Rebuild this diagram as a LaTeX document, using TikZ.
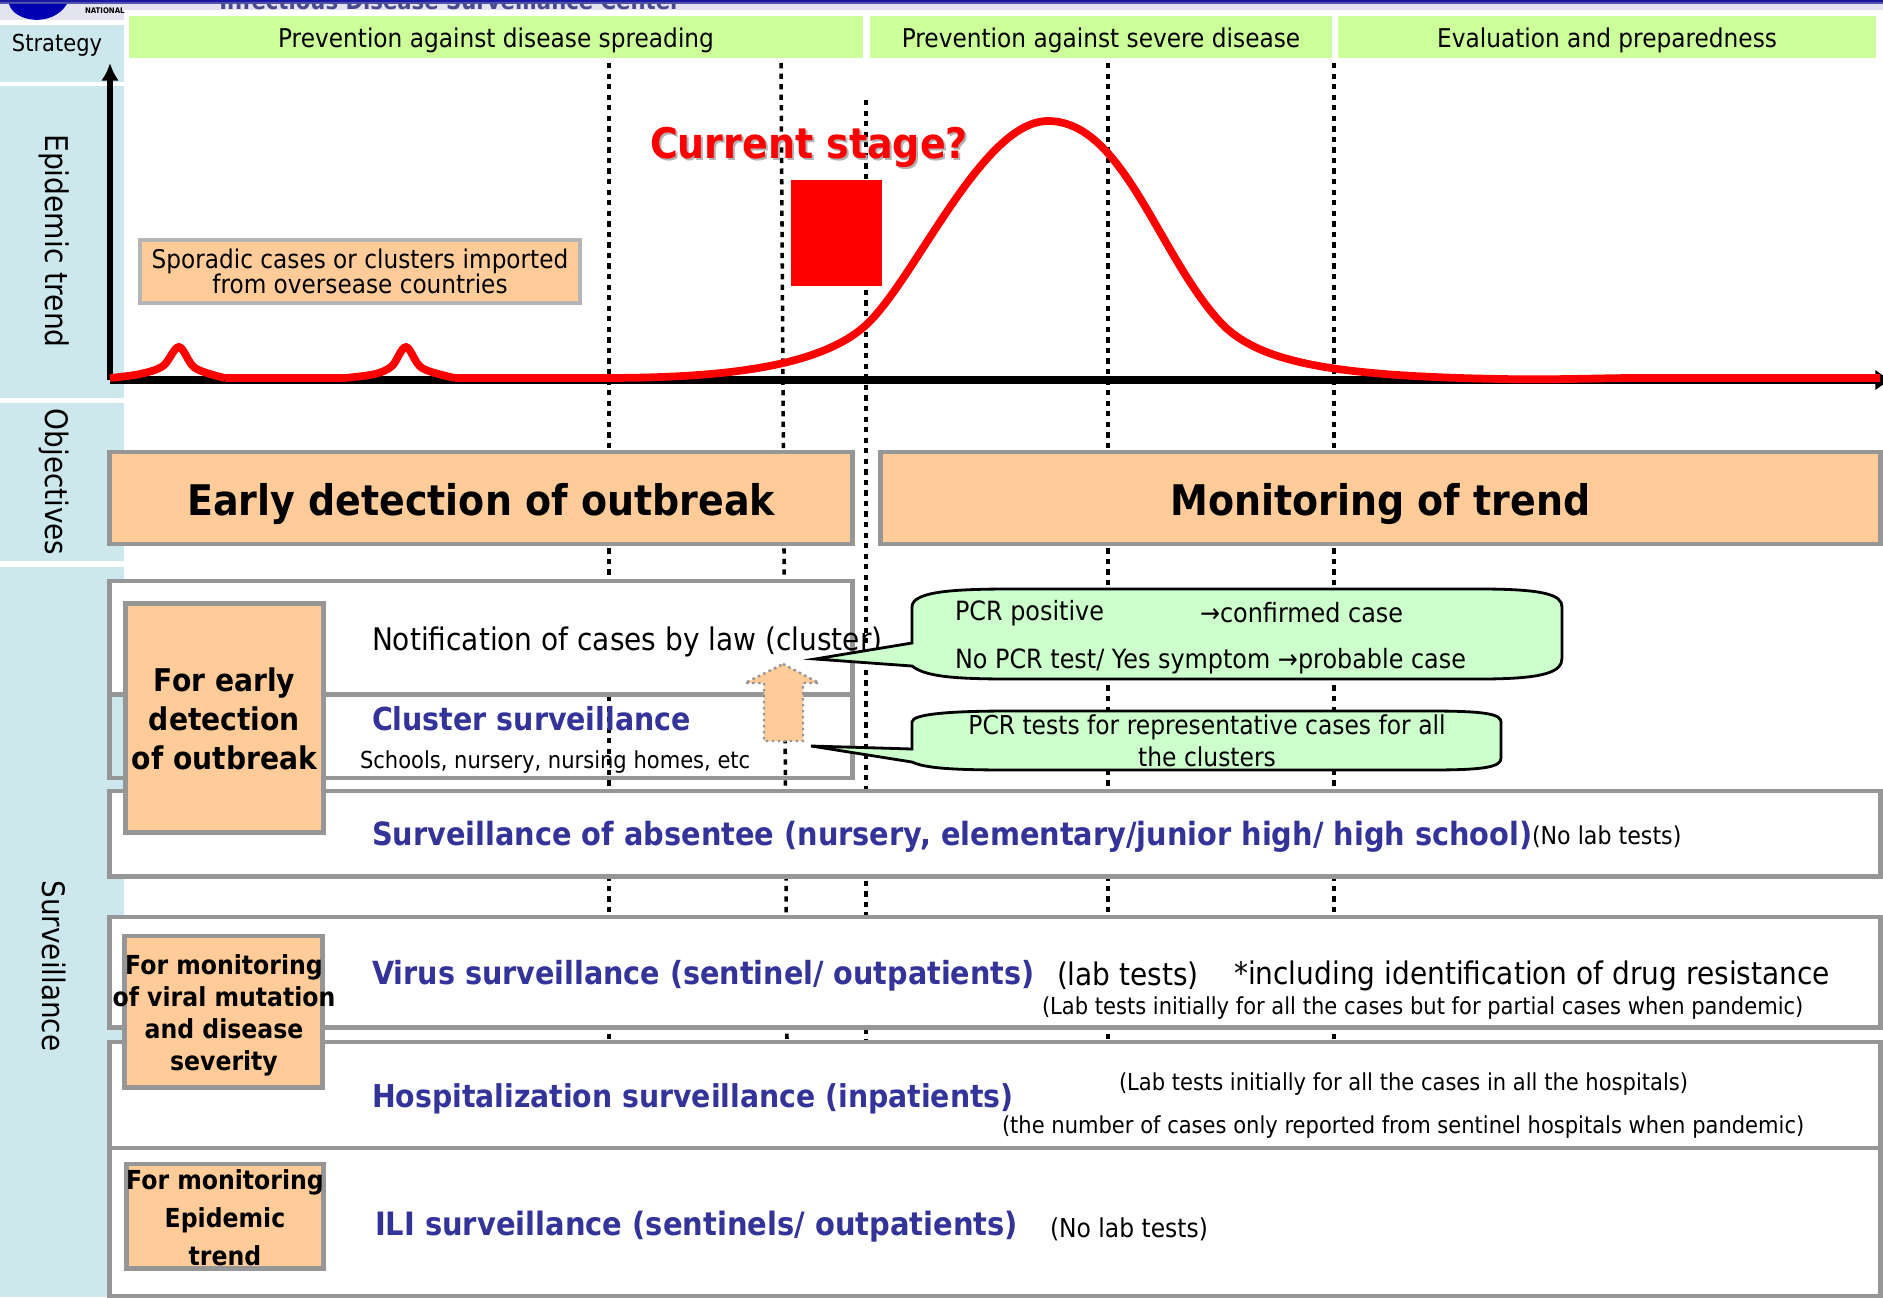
\documentclass[tikz,border=0pt]{standalone}
\usepackage{fontspec}
\setmainfont[FakeStretch=0.9]{DejaVu Sans}
\usetikzlibrary{arrows.meta}
\definecolor{bandblue}{HTML}{CCE8EC}
\definecolor{headgreen}{HTML}{CCFF99}
\definecolor{calloutgreen}{HTML}{CCFFCC}
\definecolor{boxorange}{HTML}{FFCC99}
\definecolor{boxgray}{HTML}{969696}
\definecolor{titleblue}{HTML}{333399}
\definecolor{stripblue}{HTML}{E4E4F0}
\begin{document}
\begin{tikzpicture}[x=0.01cm,y=-0.01cm]
    \tikzstyle{every node}=[inner sep=0pt,outer sep=0pt]
    \tikzstyle{band}=[fill=bandblue,draw=none]
    \tikzstyle{strategy}=[fill=headgreen,draw=none,font=\fontsize{7.35}{8}\selectfont,minimum height=0.42cm,text height=0.2cm,text depth=0cm]
    \tikzstyle{stagebreak}=[line width=1pt,black,dash pattern=on 1.5pt off 1.5pt]
    \tikzstyle{objective}=[fill=boxorange,draw=boxgray,line width=1.4pt,minimum height=0.92cm,font=\fontsize{12}{14}\selectfont\bfseries,text height=0.34cm,text depth=0cm]
    \tikzstyle{survbox}=[fill=white,draw=boxgray,line width=1.4pt]
    \tikzstyle{purpose}=[fill=boxorange,draw=boxgray,line width=1.4pt]
    \tikzstyle{purposetext}=[align=center,font=\fontsize{8.9}{11}\selectfont\bfseries]
    \tikzstyle{survtitle}=[anchor=west,text=titleblue,font=\fontsize{9}{10}\selectfont\bfseries]
    \tikzstyle{plain}=[anchor=west,font=\fontsize{8.85}{10}\selectfont]
    \tikzstyle{small}=[anchor=west,font=\fontsize{6.65}{8}\selectfont]
    \tikzstyle{calloutlab}=[anchor=west,font=\fontsize{7.55}{8}\selectfont]
    \tikzstyle{sidelab}=[rotate=-90,font=\fontsize{8.8}{10}\selectfont]
    \tikzstyle{curve}=[red,line width=2.2pt]
    \tikzstyle{callout}=[fill=calloutgreen,draw=black,line width=0.8pt]
    \useasboundingbox (0,0) rectangle (1883,1297);
    \fill[white] (0,0) rectangle (1883,1297);
    % cropped slide header
    \fill[stripblue] (0,4) rectangle (1883,10);
    \fill[stripblue] (0,10) rectangle (124,20);
    \fill[blue!60!black!90] (0,0) rectangle (1883,2);
    \fill[blue!35!gray] (0,2) rectangle (1883,4);
    \fill[blue!70!black] (9,4) .. controls (14,22) and (52,28) .. (67,4) -- cycle;
    \begin{scope}
        \clip (0,4) rectangle (1883,10);
        \node[text=titleblue!70!gray,font=\fontsize{6.7}{8}\selectfont\bfseries,anchor=base] (centre) at (450,10) {Infectious Disease Surveillance Center};
    \end{scope}
    \node[font=\fontsize{2.2}{3}\selectfont\bfseries,anchor=west] (logo) at (85,11) {NATIONAL};
    % side bands
    \fill[band] (0,25) rectangle (124,82);
    \fill[band] (0,86) rectangle (124,398);
    \fill[band] (0,403) rectangle (124,561);
    \fill[band] (0,567) rectangle (124,1297);
    \node[font=\fontsize{6.65}{8}\selectfont] (strategylab) at (57,45) {Strategy};
    \node[sidelab,font=\fontsize{8.9}{10}\selectfont] (trendlab) at (54,241) {Epidemic trend};
    \node[sidelab] (objectlab) at (54,482) {Objectives};
    \node[sidelab] (surveylab) at (54,966) {Surveillance};
    % strategy headers
    \node[strategy,minimum width=7.34cm] (spread) at (496,37) {Prevention against disease spreading};
    \node[strategy,minimum width=4.62cm] (severe) at (1101,37) {Prevention against severe disease};
    \node[strategy,minimum width=5.38cm] (prepare) at (1607,37) {Evaluation and preparedness};
    % stage breaks
    \draw[stagebreak] (609,63) -- (609,1042);
    \draw[stagebreak] (781,63) -- (787,1042);
    \draw[stagebreak] (866,100) -- (866,1042);
    \draw[stagebreak] (1108,63) -- (1108,1042);
    \draw[stagebreak] (1334,63) -- (1334,1042);
    % epidemic curve
    \coordinate (origin) at (110,380);
    \coordinate (ytop) at (110,63);
    \coordinate (xend) at (1893,380);
    \draw[line width=1.5pt,-{Latex[length=5pt,width=5pt]}] (origin) -- (ytop);
    \draw[line width=2pt,-{Latex[length=5pt,width=6pt]}] (origin) -- (xend);
    \draw[curve] plot[smooth,tension=0.55] coordinates {(110,378) (140,374) (163,366) (179,347) (195,368) (225,378)};
    \draw[curve] (225,378) -- (345,378);
    \draw[curve] plot[smooth,tension=0.55] coordinates {(345,378) (375,374) (392,366) (406,347) (422,368) (455,378)};
    \draw[curve] (455,378) -- (600,378) .. controls (700,378) and (815,372) .. (866,325) .. controls (915,280) and (982,121) .. (1048,121) .. controls (1125,121) and (1160,262) .. (1225,327) .. controls (1265,364) and (1340,376) .. (1500,379) .. controls (1560,380) and (1600,378) .. (1637,378) -- (1880,378);
    \node[fill=boxorange,draw=boxgray!70!white,line width=1.2pt,minimum width=4.4cm,minimum height=0.63cm,align=center,font=\fontsize{7.33}{7.2}\selectfont] (sporadic) at (360,271.5) {Sporadic cases or clusters imported\\from oversease countries};
    \fill[red] (791,180) rectangle (882,286);
    \node[text=black!30,font=\fontsize{12}{14}\selectfont\bfseries] (stageshadow) at (811,149) {Current stage?};
    \node[text=red,font=\fontsize{12}{14}\selectfont\bfseries] (stage) at (809,147) {Current stage?};
    % objectives
    \node[objective,minimum width=7.42cm] (early) at (481,498) {Early detection of outbreak};
    \node[objective,minimum width=9.99cm] (trend) at (1380.5,498) {Monitoring of trend};
    % surveillance boxes
    \node[survbox,minimum width=7.42cm,minimum height=1.13cm] (lawbox) at (481,637.5) {};
    \node[survbox,fill=none,minimum width=7.42cm,minimum height=0.84cm] (clusterbox) at (481,736) {};
    \node[survbox,minimum width=17.70cm,minimum height=0.85cm] (absentbox) at (995,833.5) {};
    \node[survbox,minimum width=17.70cm,minimum height=1.10cm] (virusbox) at (995,972) {};
    \node[survbox,minimum width=17.70cm,minimum height=1.06cm] (hospbox) at (995,1095) {};
    \node[survbox,minimum width=17.70cm,minimum height=1.48cm] (ilibox) at (995,1222) {};
    \node[purpose,minimum width=1.97cm,minimum height=2.28cm] (earlybox) at (224.5,718) {};
    \node[purpose,minimum width=1.97cm,minimum height=1.51cm] (viralbox) at (223.5,1011.5) {};
    \node[purpose,minimum width=1.96cm,minimum height=1.04cm] (epibox) at (225,1216) {};
    \node[purposetext] (earlytext) at (224.5,719) {For early\\detection\\of outbreak};
    \node[purposetext,font=\fontsize{7.45}{9.1}\selectfont\bfseries] (viraltext) at (224,1015) {For monitoring\\of viral mutation\\and disease\\severity};
    \node[purposetext,font=\fontsize{7.45}{10.8}\selectfont\bfseries] (epitext) at (225,1218) {For monitoring\\Epidemic\\trend};
    % box texts
    \node[plain] (lawtext) at (372,642) {Notification of cases by law (cluster)};
    \node[survtitle] (clustertext) at (372,719) {Cluster surveillance};
    \node[small] (schooltext) at (360,762) {Schools, nursery, nursing homes, etc};
    \node[survtitle,font=\fontsize{9.1}{10}\selectfont\bfseries] (absenttext) at (372,837) {Surveillance of absentee (nursery, elementary/junior high/ high school)};
    \node[small,font=\fontsize{7}{8}\selectfont] (absentnote) at (1532,837) {(No lab tests)};
    \node[survtitle,font=\fontsize{9.05}{10}\selectfont\bfseries] (virustext) at (372,976) {Virus surveillance (sentinel/ outpatients)};
    \node[plain] (virusnote) at (1057,976) {(lab tests)};
    \node[plain] (drugnote) at (1234,976) {*including identification of drug resistance};
    \node[small] (partnote) at (1042,1008) {(Lab tests initially for all the cases but for partial cases when pandemic)};
    \node[survtitle,font=\fontsize{8.95}{10}\selectfont\bfseries] (hosptext) at (372,1099) {Hospitalization surveillance (inpatients)};
    \node[small] (hospnote) at (1119,1084) {(Lab tests initially for all the cases in all the hospitals)};
    \node[small] (sentnote) at (1002,1127) {(the number of cases only reported from sentinel hospitals when pandemic)};
    \node[survtitle,font=\fontsize{9.15}{10}\selectfont\bfseries] (ilitext) at (375,1227) {ILI surveillance (sentinels/ outpatients)};
    \node[small,font=\fontsize{7.4}{8}\selectfont] (ilinote) at (1050,1229) {(No lab tests)};
    % upward arrow
    \draw[fill=boxorange,draw=boxgray,line width=0.7pt,densely dotted] (783,664) -- (819,683) -- (803,683) -- (803,741) -- (764,741) -- (764,683) -- (745,683) -- cycle;
    % callouts
    \draw[callout] (815,659) -- (912,643) -- (912,607) .. controls (912,592) and (950,589) .. (1010,589) -- (1480,589) .. controls (1545,589) and (1562,595) .. (1562,607) -- (1562,658) .. controls (1562,672) and (1545,679) .. (1480,679) -- (1010,679) .. controls (950,679) and (925,676) .. (912,666) -- cycle;
    \draw[callout] (811,746) -- (912,749) -- (912,722) .. controls (912,714) and (950,711) .. (1010,711) -- (1430,711) .. controls (1485,711) and (1501,714) .. (1501,722) -- (1501,758) .. controls (1501,767) and (1485,770) .. (1430,770) -- (1010,770) .. controls (950,770) and (925,768) .. (912,762) -- cycle;
    \node[calloutlab] (pcrpos) at (955,613) {PCR positive};
    \node[calloutlab] (confirmed) at (1200,613) {→confirmed case};
    \node[calloutlab] (probable) at (955,661) {No PCR test/ Yes symptom →probable case};
    \node[align=center,font=\fontsize{7.4}{9}\selectfont] (pcrrep) at (1207,741) {PCR tests for representative cases for all\\the clusters};
\end{tikzpicture}
\end{document}
